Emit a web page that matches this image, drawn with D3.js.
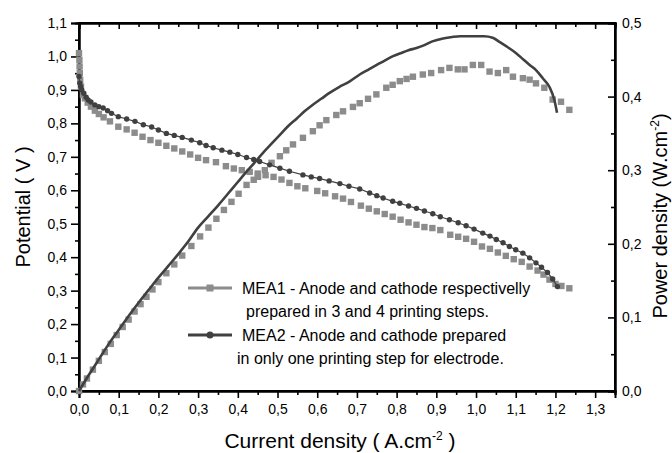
<!DOCTYPE html>
<html lang="en">
<head>
    <meta charset="UTF-8">
    <title>MEA polarization and power curves</title>
    <script src="https://d3js.org/d3.v7.min.js"></script>
    <style>
        body { margin: 0; background: #fff; }
        svg { display: block; font-family: "Liberation Sans", Arial, sans-serif; }
        .axis path, .axis line { stroke: #000; }
        .axis text { font-size: 14px; fill: #000; font-family: "Liberation Sans", Arial, sans-serif; }
        .title { font-size: 20px; fill: #000; }
        .legend text { font-size: 16px; fill: #000; }
    </style>
</head>
<body>
<svg width="672" height="453"></svg>
<script>
    // tick labels
    const xTicks = [0, 0.1, 0.2, 0.3, 0.4, 0.5, 0.6, 0.7, 0.8, 0.9, 1.0, 1.1, 1.2, 1.3];
    const vTicks = [0, 0.1, 0.2, 0.3, 0.4, 0.5, 0.6, 0.7, 0.8, 0.9, 1.0, 1.1];
    const pTicks = [0, 0.1, 0.2, 0.3, 0.4, 0.5];

    // MEA1 polarization (current, potential)
    const mea1Current = [0, 0.001, 0.0015, 0.002, 0.003, 0.005, 0.010, 0.015, 0.022, 0.030, 0.040, 0.050, 0.062, 0.078, 0.099,
        0.12, 0.14, 0.16, 0.18, 0.20, 0.22, 0.24, 0.26, 0.28, 0.30, 0.32, 0.345, 0.37, 0.39, 0.41, 0.43,
        0.45, 0.47, 0.49, 0.51, 0.53, 0.55, 0.57, 0.60, 0.62, 0.645, 0.665, 0.685, 0.71, 0.73, 0.75, 0.77,
        0.79, 0.81, 0.83, 0.85, 0.87, 0.89, 0.91, 0.935, 0.955, 0.975, 0.995, 1.015, 1.035, 1.055, 1.075,
        1.095, 1.115, 1.135, 1.155, 1.17, 1.185, 1.20, 1.215, 1.235];
    const mea1Potential = [1.01, 0.99, 0.97, 0.95, 0.93, 0.91, 0.885, 0.875, 0.862, 0.85, 0.838, 0.828, 0.818, 0.806, 0.79,
        0.782, 0.772, 0.76, 0.75, 0.742, 0.733, 0.725, 0.716, 0.707, 0.697, 0.69, 0.684, 0.672, 0.665, 0.66, 0.655,
        0.65, 0.645, 0.64, 0.632, 0.622, 0.612, 0.606, 0.598, 0.591, 0.582, 0.575, 0.565, 0.554, 0.545, 0.537, 0.529,
        0.521, 0.512, 0.504, 0.497, 0.49, 0.487, 0.481, 0.467, 0.461, 0.455, 0.446, 0.432, 0.425, 0.414, 0.404,
        0.394, 0.386, 0.372, 0.36, 0.348, 0.333, 0.32, 0.314, 0.307];

    // MEA1 power density (current, power)
    const mea1PowCurrent = [0, 0.010, 0.020, 0.035, 0.050, 0.065, 0.080, 0.095, 0.110, 0.125, 0.140, 0.155,
        0.170, 0.185, 0.200, 0.220, 0.240, 0.260, 0.283, 0.305, 0.326, 0.346, 0.365, 0.384, 0.402, 0.422,
        0.440, 0.451, 0.468, 0.485, 0.506, 0.522, 0.539, 0.564, 0.589, 0.606, 0.623, 0.648, 0.665, 0.690,
        0.707, 0.728, 0.749, 0.774, 0.790, 0.808, 0.825, 0.841, 0.866, 0.887, 0.912, 0.933, 0.954, 0.971,
        0.992, 1.013, 1.034, 1.055, 1.076, 1.093, 1.118, 1.135, 1.151, 1.172, 1.193, 1.214, 1.235];
    const mea1Power = [0, 0.009, 0.017, 0.029, 0.041, 0.053, 0.064, 0.076, 0.087, 0.097, 0.108, 0.118,
        0.128, 0.138, 0.148, 0.160, 0.172, 0.184, 0.197, 0.210, 0.222, 0.234, 0.246, 0.257, 0.268, 0.280,
        0.287, 0.291, 0.300, 0.310, 0.319, 0.327, 0.335, 0.344, 0.353, 0.361, 0.368, 0.375, 0.380, 0.386,
        0.391, 0.397, 0.403, 0.412, 0.416, 0.421, 0.424, 0.427, 0.430, 0.432, 0.436, 0.439, 0.437, 0.437,
        0.443, 0.443, 0.434, 0.432, 0.436, 0.427, 0.425, 0.423, 0.418, 0.412, 0.396, 0.393, 0.382];

    // MEA2 polarization (current, potential)
    const mea2Current = [0, 0.002, 0.004, 0.007, 0.012, 0.018, 0.023, 0.030, 0.040, 0.050, 0.061, 0.072,
        0.082, 0.099, 0.12, 0.141, 0.162, 0.183, 0.20, 0.22, 0.24, 0.26, 0.283, 0.304, 0.32, 0.338, 0.36,
        0.38, 0.40, 0.422, 0.44, 0.455, 0.48, 0.506, 0.53, 0.564, 0.585, 0.606, 0.63, 0.657, 0.68, 0.707,
        0.732, 0.75, 0.766, 0.79, 0.808, 0.83, 0.85, 0.87, 0.891, 0.91, 0.933, 0.955, 0.975, 0.995, 1.017,
        1.035, 1.051, 1.068, 1.084, 1.10, 1.118, 1.135, 1.151, 1.165, 1.18, 1.193, 1.205];
    const mea2Potential = [0.94, 0.92, 0.91, 0.90, 0.89, 0.878, 0.87, 0.864, 0.855, 0.85, 0.846, 0.838,
        0.83, 0.82, 0.813, 0.806, 0.796, 0.789, 0.78, 0.77, 0.764, 0.758, 0.75, 0.742, 0.734, 0.727, 0.72,
        0.714, 0.707, 0.698, 0.692, 0.686, 0.676, 0.666, 0.657, 0.646, 0.64, 0.635, 0.628, 0.62, 0.612, 0.604,
        0.592, 0.584, 0.577, 0.567, 0.561, 0.553, 0.546, 0.538, 0.53, 0.521, 0.512, 0.503, 0.494, 0.484, 0.472,
        0.463, 0.453, 0.443, 0.432, 0.422, 0.412, 0.398, 0.383, 0.37, 0.354, 0.335, 0.312];

    // MEA2 power density (current, power)
    const mea2PowCurrent = [0, 0.025, 0.05, 0.075, 0.1, 0.125, 0.15, 0.175, 0.2, 0.225, 0.25, 0.275, 0.3,
        0.325, 0.35, 0.375, 0.4, 0.422, 0.445, 0.464, 0.485, 0.506, 0.527, 0.548, 0.568, 0.589, 0.61, 0.631,
        0.655, 0.68, 0.707, 0.73, 0.75, 0.77, 0.791, 0.81, 0.83, 0.85, 0.87, 0.89, 0.917, 0.94, 0.96, 0.975,
        1.0, 1.02, 1.042, 1.06, 1.08, 1.101, 1.12, 1.135, 1.151, 1.168, 1.185, 1.197, 1.204];
    const mea2Power = [0, 0.022, 0.043, 0.064, 0.083, 0.102, 0.12, 0.137, 0.154, 0.17, 0.186, 0.203, 0.222,
        0.237, 0.252, 0.268, 0.284, 0.298, 0.312, 0.324, 0.336, 0.348, 0.36, 0.37, 0.38, 0.389, 0.397, 0.405,
        0.413, 0.42, 0.43, 0.437, 0.443, 0.449, 0.455, 0.459, 0.463, 0.466, 0.47, 0.475, 0.479, 0.481, 0.482, 0.482,
        0.482, 0.482, 0.48, 0.474, 0.467, 0.459, 0.45, 0.443, 0.436, 0.425, 0.413, 0.396, 0.378];

    const legendLines = [
        ["MEA1 - Anode and cathode respectivelly", "prepared in 3 and 4 printing steps."],
        ["MEA2 - Anode and cathode prepared", "in only one printing step for electrode."]
    ];

    const grey = "#8c8c8c", dark = "#404040";
    const plotL = 79, plotR = 615, plotT = 23, plotB = 391;

    const svg = d3.select("svg");

    const x = d3.scaleLinear().domain([0, 1.35]).range([plotL, plotR]);
    const yV = d3.scaleLinear().domain([0, 1.1]).range([plotB, plotT]);
    const yP = d3.scaleLinear().domain([0, 0.5]).range([plotB, plotT]);

    const fmt = d => d3.format(".1f")(d).replace(".", ",");
    const minorX = d3.range(0.05, 1.36, 0.1);
    const minorV = d3.range(0.05, 1.1, 0.1);
    const minorP = d3.range(0.05, 0.5, 0.1);

    // minor ticks first
    svg.append("g").attr("class", "axis").attr("transform", `translate(0,${plotB})`)
        .call(d3.axisBottom(x).tickValues(minorX).tickSize(4).tickFormat(""));
    svg.append("g").attr("class", "axis").attr("transform", `translate(0,${plotT})`)
        .call(d3.axisTop(x).tickValues(minorX).tickSize(-4).tickFormat(""));
    svg.append("g").attr("class", "axis").attr("transform", `translate(${plotL},0)`)
        .call(d3.axisLeft(yV).tickValues(minorV).tickSize(4).tickFormat(""));
    svg.append("g").attr("class", "axis").attr("transform", `translate(${plotR},0)`)
        .call(d3.axisRight(yP).tickValues(minorP).tickSize(-4).tickFormat(""));

    // major ticks
    svg.append("g").attr("class", "axis").attr("transform", `translate(0,${plotB})`)
        .call(d3.axisBottom(x).tickValues(xTicks).tickSize(7).tickPadding(6).tickFormat(fmt));
    svg.append("g").attr("class", "axis").attr("transform", `translate(0,${plotT})`)
        .call(d3.axisTop(x).tickValues(xTicks).tickSize(-6).tickFormat(""));
    svg.append("g").attr("class", "axis").attr("transform", `translate(${plotL},0)`)
        .call(d3.axisLeft(yV).tickValues(vTicks).tickSize(8).tickPadding(4).tickFormat(fmt));
    svg.append("g").attr("class", "axis").attr("transform", `translate(${plotR},0)`)
        .call(d3.axisRight(yP).tickValues(pTicks).tickSize(-7).tickPadding(7).tickFormat(fmt));

    svg.selectAll(".axis path").attr("stroke-width", 2);
    svg.selectAll(".axis line").attr("stroke-width", 1.6);

    // frame
    svg.append("rect").attr("x", plotL).attr("y", plotT).attr("width", plotR - plotL).attr("height", plotB - plotT)
        .attr("fill", "none").attr("stroke", "#000").attr("stroke-width", 2);

    // MEA1 power and polarization: squares
    const sq = 6.4;
    const mea1Pol = mea1Current.map((c, i) => [c, mea1Potential[i]]);
    const mea1Pow = mea1PowCurrent.map((c, i) => [c, mea1Power[i]]);
    svg.append("g").selectAll("rect").data(mea1Pol).join("rect")
        .attr("x", d => x(d[0]) - sq / 2).attr("y", d => yV(d[1]) - sq / 2)
        .attr("width", sq).attr("height", sq).attr("fill", grey);
    svg.append("g").selectAll("rect").data(mea1Pow).join("rect")
        .attr("x", d => x(d[0]) - sq / 2).attr("y", d => yP(d[1]) - sq / 2)
        .attr("width", sq).attr("height", sq).attr("fill", grey);

    // MEA2 polarization: thin line + dots
    const mea2Pol = mea2Current.map((c, i) => [c, mea2Potential[i]]);
    svg.append("path").datum(mea2Pol)
        .attr("d", d3.line().x(d => x(d[0])).y(d => yV(d[1])))
        .attr("fill", "none").attr("stroke", dark).attr("stroke-width", 1.2);
    svg.append("g").selectAll("circle").data(mea2Pol).join("circle")
        .attr("cx", d => x(d[0])).attr("cy", d => yV(d[1])).attr("r", 2.7).attr("fill", dark);

    // MEA2 power: dense line
    const mea2Pow = mea2PowCurrent.map((c, i) => [c, mea2Power[i]]);
    svg.append("path").datum(mea2Pow)
        .attr("d", d3.line().curve(d3.curveMonotoneX).x(d => x(d[0])).y(d => yP(d[1])))
        .attr("fill", "none").attr("stroke", dark).attr("stroke-width", 2.6);

    // legend
    const lg = svg.append("g").attr("class", "legend");
    const rows = [288, 335];
    [[grey, "square"], [dark, "circle"]].forEach((s, i) => {
        const yy = rows[i];
        lg.append("line").attr("x1", 188).attr("x2", 232).attr("y1", yy).attr("y2", yy)
            .attr("stroke", s[0]).attr("stroke-width", 3);
        if (s[1] === "square") {
            lg.append("rect").attr("x", 210 - 3.5).attr("y", yy - 3.5).attr("width", 7).attr("height", 7)
                .attr("fill", s[0]);
        } else {
            lg.append("circle").attr("cx", 210).attr("cy", yy).attr("r", 3.5).attr("fill", s[0]);
        }
        lg.append("text").attr("x", 242).attr("y", yy + 6).text(legendLines[i][0]);
        lg.append("text").attr("x", i === 0 ? 246 : 237).attr("y", yy + 29).text(legendLines[i][1]);
    });

    // axis titles
    const xt = svg.append("text").attr("class", "title").attr("x", 340).attr("y", 448)
        .attr("text-anchor", "middle").style("font-size", "21px");
    xt.append("tspan").text("Current density  ( A.cm");
    xt.append("tspan").attr("dy", -8).attr("font-size", 12).text("-2");
    xt.append("tspan").attr("dy", 8).text(" )");

    svg.append("text").attr("class", "title")
        .attr("transform", "translate(30,207) rotate(-90)")
        .attr("text-anchor", "middle").text("Potential  ( V )");

    const yt = svg.append("text").attr("class", "title")
        .attr("transform", "translate(667,216) rotate(-90)")
        .attr("text-anchor", "middle");
    yt.append("tspan").text("Power density (W.cm");
    yt.append("tspan").attr("dy", -8).attr("font-size", 12).text("-2");
    yt.append("tspan").attr("dy", 8).text(")");
</script>
</body>
</html>
